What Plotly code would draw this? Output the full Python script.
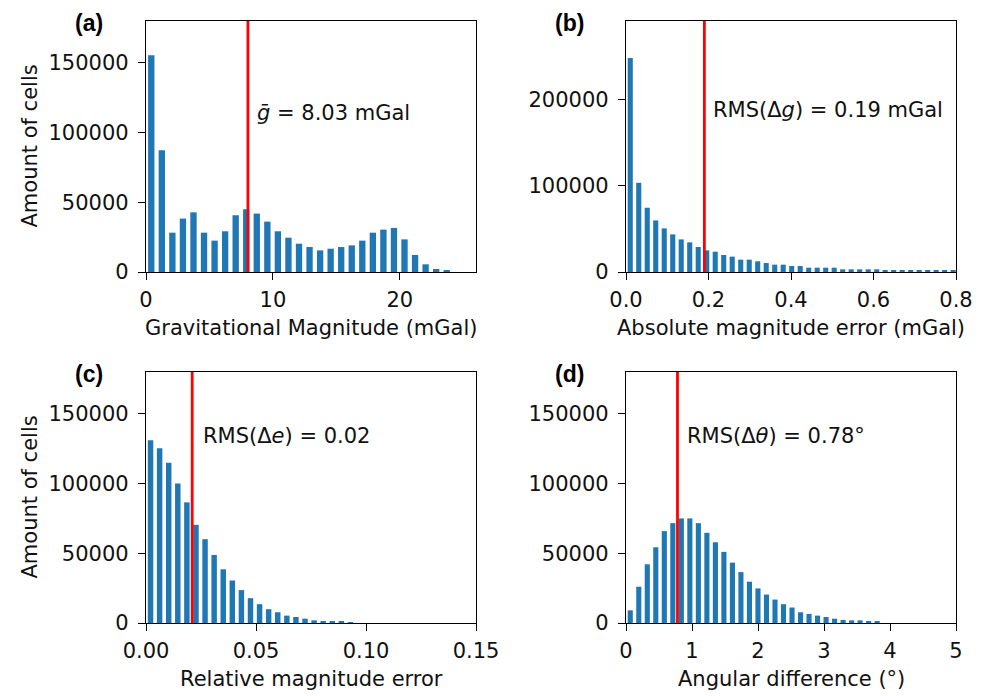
import plotly.graph_objects as go

# ---------------- data ----------------
# (a) gravitational magnitude histogram
a_bin_start = 0.0
a_bin_width = 0.8313
a_counts = [155500, 87300, 28200, 38300, 42800, 28200, 22500, 29200, 40700, 45000,
            41900, 36100, 29200, 24600, 20300, 17900, 15500, 16700, 17900, 19100,
            22500, 28200, 30400, 31600, 23400, 12200, 5500, 2150, 1200]
a_mean = 8.03

# (b) absolute magnitude error histogram
b_bin_start = 0.0
b_bin_width = 0.0206
b_counts = [248200, 103400, 74500, 59800, 50600, 43600, 37800, 34400, 29000, 25100,
            23500, 19700, 17800, 14300, 14300, 12400, 10400, 8500, 8500, 6900,
            6900, 5000, 5000, 5000, 5000, 3100, 3100, 3100, 3100, 3100,
            1500, 1500, 1500, 1400, 1400, 1300, 1300, 1200, 1200, 1100]
b_rms = 0.19

# (c) relative magnitude error histogram
c_bin_start = 0.0
c_bin_width = 0.00413
c_counts = [131000, 125300, 114900, 100000, 86500, 70400, 60100, 48800, 38500, 30500,
            23600, 17800, 13500, 9900, 7700, 5300, 4300, 3100, 1900, 1200,
            1000, 1000, 700]
c_rms = 0.021

# (d) angular difference histogram
d_bin_start = 0.0
d_bin_width = 0.129
d_counts = [9100, 26000, 42100, 54300, 65900, 71600, 75000, 75000, 71600, 64700,
            57900, 51000, 43300, 36500, 29600, 24800, 20400, 16800, 13500, 11100,
            7700, 6500, 5300, 4300, 3100, 2200, 1900, 1900, 1000, 1000]
d_rms = 0.78

panel_labels = ["(a)", "(b)", "(c)", "(d)"]
x_titles = ["Gravitational Magnitude (mGal)", "Absolute magnitude error (mGal)",
            "Relative magnitude error", "Angular difference (°)"]
y_title = "Amount of cells"
stat_texts = ["<i>g\u0304</i> = 8.03 mGal", "RMS(Δ<i>g</i>) = 0.19 mGal",
              "RMS(Δ<i>e</i>) = 0.02", "RMS(Δ<i>θ</i>) = 0.78°"]
stat_pos = [(8.58, 114000), (0.205, 188200), (0.0249, 134200), (0.897, 134200)]

x_ranges = [[0, 26], [0, 0.8], [0, 0.15], [0, 5]]
y_ranges = [[0, 180000], [0, 291000], [0, 180000], [0, 180000]]
x_ticks = [[0, 10, 20], [0.0, 0.2, 0.4, 0.6, 0.8], [0.0, 0.05, 0.10, 0.15], [0, 1, 2, 3, 4, 5]]
x_formats = ["d", ".1f", ".2f", "d"]
y_ticks = [[0, 50000, 100000, 150000], [0, 100000, 200000],
           [0, 50000, 100000, 150000], [0, 50000, 100000, 150000]]

# ---------------- figure ----------------
W, H = 989, 696
BLUE = "#1f77b4"
FONT = "DejaVu Sans"
FS = 21

hists = [(a_bin_start, a_bin_width, a_counts, a_mean),
         (b_bin_start, b_bin_width, b_counts, b_rms),
         (c_bin_start, c_bin_width, c_counts, c_rms),
         (d_bin_start, d_bin_width, d_counts, d_rms)]

# panel boxes in pixels: left, right, top, bottom
boxes = [(146, 476, 21, 272), (626, 956, 21, 272),
         (146, 476, 372, 623), (626, 956, 372, 623)]

fig = go.Figure()
annotations = []
shapes = []

for i, ((start, bw, counts, vline), (l, r, t, b)) in enumerate(zip(hists, boxes)):
    suffix = "" if i == 0 else str(i + 1)
    xa, ya = "x" + suffix, "y" + suffix
    centers = [start + (k + 0.5) * bw for k in range(len(counts))]
    fig.add_trace(go.Bar(x=centers, y=counts, width=0.6 * bw, xaxis=xa, yaxis=ya,
                         marker=dict(color=BLUE, line=dict(width=0)),
                         showlegend=False, hoverinfo="skip"))
    axis_common = dict(showline=True, linecolor="black", linewidth=1.3, mirror=True,
                       ticks="outside", ticklen=7, tickwidth=1.3, tickcolor="black",
                       showgrid=False, zeroline=False, automargin=False,
                       tickfont=dict(family=FONT, size=FS, color="#111111"))
    fig.layout["xaxis" + suffix] = dict(domain=[l / W, r / W], anchor=ya,
                                        range=x_ranges[i], tickvals=x_ticks[i],
                                        tickformat=x_formats[i], ticklabelstandoff=2,
                                        **axis_common)
    fig.layout["yaxis" + suffix] = dict(domain=[1 - b / H, 1 - t / H], anchor=xa,
                                        range=y_ranges[i], tickvals=y_ticks[i],
                                        tickformat="d", ticklabelstandoff=5,
                                        **axis_common)
    shapes.append(dict(type="line", xref=xa, yref=ya + " domain", x0=vline, x1=vline,
                       y0=0, y1=1, line=dict(color="red", width=2.8), layer="above"))
    sx, sy = stat_pos[i]
    annotations.append(dict(x=sx, y=sy, xref=xa, yref=ya, text=stat_texts[i],
                            showarrow=False, xanchor="left", yanchor="middle",
                            font=dict(family=FONT, size=FS, color="#111111")))
    # x axis title
    annotations.append(dict(x=(l + r) / 2 / W, y=1 - (b + 56) / H, xref="paper", yref="paper",
                            text=x_titles[i], showarrow=False, xanchor="center",
                            yanchor="middle",
                            font=dict(family=FONT, size=FS, color="#111111")))
    # panel label
    annotations.append(dict(x=(l - 57) / W, y=1 - (t + 2) / H, xref="paper", yref="paper",
                            text="<b>" + panel_labels[i] + "</b>", showarrow=False,
                            xanchor="center", yanchor="middle",
                            font=dict(family="Liberation Sans", size=23, color="black")))
    if i in (0, 2):
        annotations.append(dict(x=30 / W, y=1 - (t + b) / 2 / H, xref="paper", yref="paper",
                                text=y_title, showarrow=False, textangle=-90,
                                xanchor="center", yanchor="middle",
                                font=dict(family=FONT, size=FS, color="#111111")))

fig.update_layout(width=W, height=H,
                  margin=dict(l=0, r=0, t=0, b=0, pad=0, autoexpand=False),
                  paper_bgcolor="white", plot_bgcolor="white",
                  annotations=annotations, shapes=shapes, showlegend=False)

fig.write_html("out.html", config={"displayModeBar": False},
               post_script="document.body.style.margin='0px';document.body.style.overflow='hidden';")
